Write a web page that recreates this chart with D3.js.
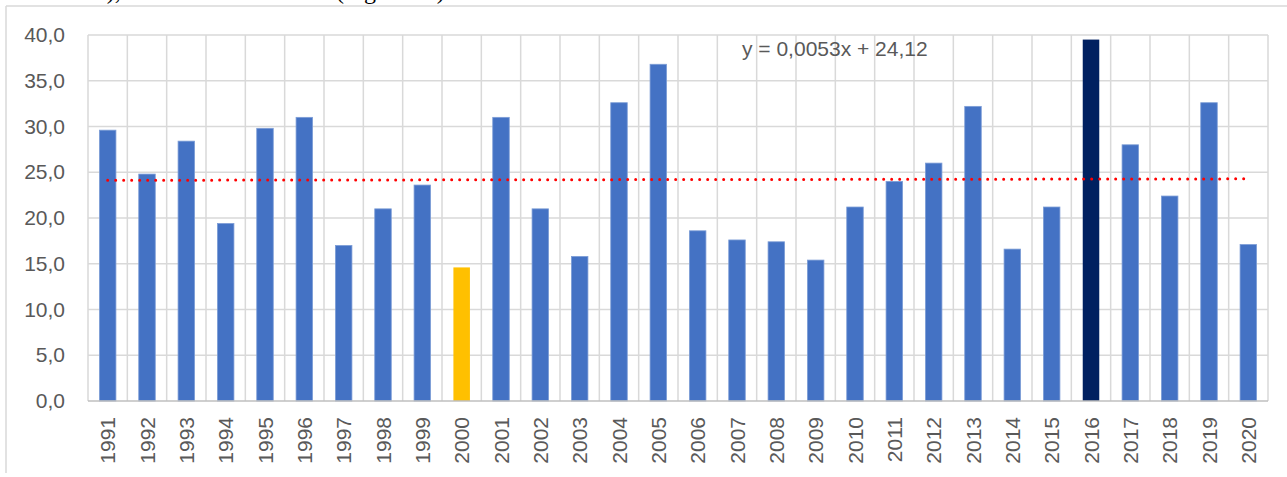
<!DOCTYPE html>
<html>
<head>
<meta charset="utf-8">
<script src="https://cdn.jsdelivr.net/npm/d3@7/dist/d3.min.js"></script>
<style>
  html, body { margin: 0; padding: 0; background: #fff; }
  svg { display: block; }
</style>
</head>
<body>
<svg id="chart" width="1287" height="477"></svg>
<script>
const years = ["1991","1992","1993","1994","1995","1996","1997","1998","1999","2000",
  "2001","2002","2003","2004","2005","2006","2007","2008","2009","2010",
  "2011","2012","2013","2014","2015","2016","2017","2018","2019","2020"];
const values = [29.6,24.8,28.4,19.4,29.8,31.0,17.0,21.0,23.6,14.6,
  31.0,21.0,15.8,32.6,36.8,18.6,17.6,17.4,15.4,21.2,
  24.0,26.0,32.2,16.6,21.2,39.5,28.0,22.4,32.6,17.1];
const highlightLow = "2000";
const highlightHigh = "2016";
const yTicks = [0,5,10,15,20,25,30,35,40];
const trendSlope = 0.0053;
const trendIntercept = 24.12;
const trendLabel = "y = 0,0053x + 24,12";

const svg = d3.select("#chart");
const W = 1287, H = 477;
const m = {left: 88, top: 35, right: 1268, bottom: 401};

const fmt = v => d3.format(".1f")(v).replace(".", ",");
const textColor = "#595959";
const gridColor = "#d9d9d9";
const font = "'Liberation Sans', Arial, sans-serif";

// partial document text at top (cut off)
svg.append("text").attr("x", 96).attr("y", -1)
  .attr("font-family", "'Liberation Serif', 'Times New Roman', serif")
  .attr("font-size", 24).attr("fill", "#000").text("a), ");
svg.append("text").attr("x", 336).attr("y", -1)
  .attr("font-family", "'Liberation Serif', 'Times New Roman', serif")
  .attr("font-size", 24).attr("fill", "#000").text("(Figura 10)");

// outer chart border (top and left visible)
svg.append("line").attr("x1", 6).attr("x2", W).attr("y1", 6).attr("y2", 6)
  .attr("stroke", gridColor).attr("stroke-width", 1.5);
svg.append("line").attr("x1", 6).attr("x2", 6).attr("y1", 6).attr("y2", 473)
  .attr("stroke", gridColor).attr("stroke-width", 1.5);

const x = d3.scaleBand().domain(years).range([m.left, m.right]).paddingInner(0).paddingOuter(0);
const y = d3.scaleLinear().domain([0, 40]).range([m.bottom, m.top]);

// horizontal gridlines
svg.append("g").selectAll("line").data(yTicks.filter(t => t > 0)).join("line")
  .attr("x1", m.left).attr("x2", m.right)
  .attr("y1", d => y(d)).attr("y2", d => y(d))
  .attr("stroke", gridColor).attr("stroke-width", 1.5);

// vertical gridlines at category boundaries
const bounds = years.map(d => x(d)).concat([m.right]);
svg.append("g").selectAll("line").data(bounds).join("line")
  .attr("x1", d => d).attr("x2", d => d)
  .attr("y1", m.top).attr("y2", m.bottom)
  .attr("stroke", gridColor).attr("stroke-width", 1.5);

// bars
const bw = x.bandwidth() * 0.42;
svg.append("g").selectAll("rect").data(years).join("rect")
  .attr("x", d => x(d) + (x.bandwidth() - bw) / 2)
  .attr("width", bw)
  .attr("y", (d, i) => y(values[i]))
  .attr("height", (d, i) => y(0) - y(values[i]))
  .attr("fill", d => d === highlightLow ? "#FFC000" : d === highlightHigh ? "#002060" : "#4472C4")
  .attr("stroke", d => (d === highlightLow || d === highlightHigh) ? "none" : "#7d9dd6")
  .attr("stroke-width", 0.8);

// x axis line
svg.append("line").attr("x1", m.left).attr("x2", m.right)
  .attr("y1", y(0)).attr("y2", y(0))
  .attr("stroke", "#bfbfbf").attr("stroke-width", 1.5);

// y axis labels
const yAxis = d3.axisLeft(y).tickValues(yTicks).tickFormat(fmt).tickSize(0).tickPadding(23);
const ya = svg.append("g").attr("transform", `translate(${m.left},0)`).call(yAxis);
ya.select(".domain").remove();
ya.selectAll("text").attr("font-family", font).attr("font-size", 21).attr("fill", textColor);

// x axis labels (rotated)
const xAxis = d3.axisBottom(x).tickSize(0).tickPadding(0);
const xa = svg.append("g").attr("transform", `translate(0,${m.bottom})`).call(xAxis);
xa.select(".domain").remove();
xa.selectAll("text")
  .attr("font-family", font).attr("font-size", 21).attr("fill", textColor)
  .attr("transform", "rotate(-90)")
  .attr("text-anchor", "end")
  .attr("x", -16).attr("y", 0).attr("dy", "0.36em");

// trendline
const n = years.length;
const tx1 = x(years[0]) + x.bandwidth() / 2;
const tx2 = x(years[n - 1]) + x.bandwidth() / 2;
svg.append("line")
  .attr("x1", tx1).attr("x2", tx2)
  .attr("y1", y(trendSlope * 1 + trendIntercept))
  .attr("y2", y(trendSlope * n + trendIntercept))
  .attr("stroke", "#ff0000").attr("stroke-width", 3)
  .attr("stroke-linecap", "round").attr("stroke-dasharray", "0 8");

// trend label
svg.append("text").attr("x", 742).attr("y", 56)
  .attr("font-family", font).attr("font-size", 21).attr("fill", textColor)
  .text(trendLabel);
</script>
</body>
</html>
